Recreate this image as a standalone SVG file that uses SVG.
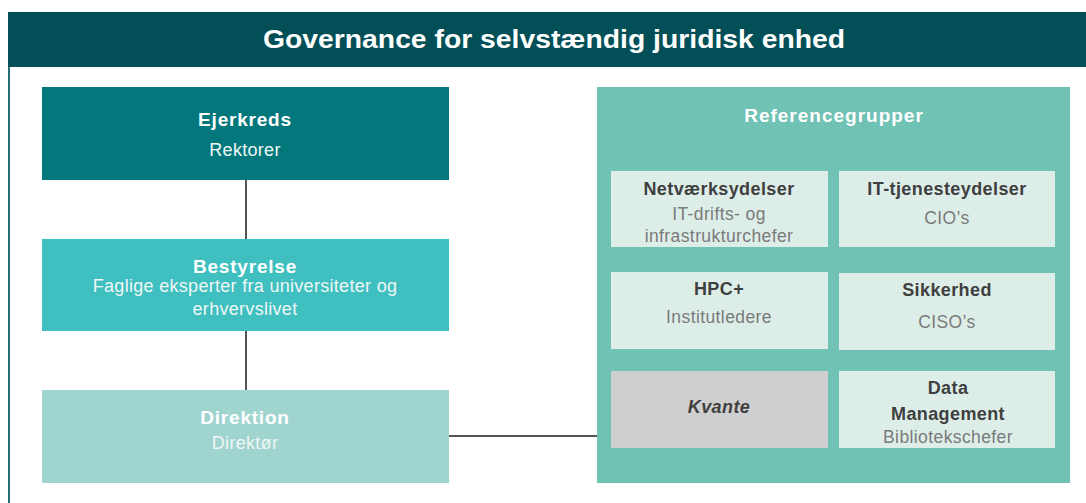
<svg xmlns="http://www.w3.org/2000/svg" width="1086" height="503" viewBox="0 0 1086 503">
<style>
text{font-family:"Liberation Sans",Arial,sans-serif;text-anchor:middle}
.t{font-weight:bold;fill:#fff;font-size:19px;letter-spacing:0.8px}
.s{fill:#eef7f6;font-size:18px;letter-spacing:0.3px}
.it{font-weight:bold;fill:#3f3f3f;font-size:18px;letter-spacing:0.4px}
.is{fill:#7a7a7a;font-size:17.5px;letter-spacing:0.4px}
.conn{stroke:#555;stroke-width:2;fill:none}
</style>
<rect width="1086" height="503" fill="#fff"/>
<g id="header">
<rect x="8" y="12" width="1078" height="55" fill="#024F57"/>
<rect x="8" y="67" width="2" height="436" fill="#2a6d72"/>
<text x="554" y="48" font-size="25" font-weight="bold" fill="#fff" textLength="582" lengthAdjust="spacingAndGlyphs">Governance for selvstændig juridisk enhed</text>
</g>
<g id="connectors">
<line class="conn" x1="246" y1="180" x2="246" y2="239"/>
<line class="conn" x1="246" y1="331" x2="246" y2="390"/>
<line class="conn" x1="449" y1="436" x2="597" y2="436"/>
</g>
<g id="ejerkreds">
<rect x="42" y="87" width="407" height="93" fill="#02777C"/>
<text class="t" x="245" y="126">Ejerkreds</text>
<text class="s" x="245" y="156">Rektorer</text>
</g>
<g id="bestyrelse">
<rect x="42" y="239" width="407" height="92" fill="#3FBFBF"/>
<text class="t" x="245" y="273">Bestyrelse</text>
<text class="s" x="245" y="292">Faglige eksperter fra universiteter og</text>
<text class="s" x="245" y="315">erhvervslivet</text>
</g>
<g id="direktion">
<rect x="42" y="390" width="407" height="93" fill="#A0D4CF"/>
<text class="t" x="245" y="424">Direktion</text>
<text class="s" x="245" y="449">Direktør</text>
</g>
<g id="referencegrupper">
<rect x="597" y="87" width="473" height="396" fill="#6FC2B4"/>
<text class="t" x="834" y="122" style="letter-spacing:1px">Referencegrupper</text>
</g>
<g id="netvaerksydelser">
<rect x="611" y="171" width="217" height="76" fill="#DDEEE9"/>
<text class="it" x="719" y="195">Netværksydelser</text>
<text class="is" x="719" y="220">IT-drifts- og</text>
<text class="is" x="719" y="242">infrastrukturchefer</text>
</g>
<g id="it-tjenesteydelser">
<rect x="839" y="171" width="216" height="76" fill="#DDEEE9"/>
<text class="it" x="947" y="195">IT-tjenesteydelser</text>
<text class="is" x="947" y="224">CIO’s</text>
</g>
<g id="hpc">
<rect x="611" y="272" width="217" height="77" fill="#DDEEE9"/>
<text class="it" x="719" y="295">HPC+</text>
<text class="is" x="719" y="323">Institutledere</text>
</g>
<g id="sikkerhed">
<rect x="839" y="273" width="216" height="77" fill="#DDEEE9"/>
<text class="it" x="947" y="296">Sikkerhed</text>
<text class="is" x="947" y="328">CISO’s</text>
</g>
<g id="kvante">
<rect x="611" y="371" width="217" height="77" fill="#CFCFCF"/>
<text class="it" x="719" y="413" font-style="italic">Kvante</text>
</g>
<g id="data-management">
<rect x="839" y="371" width="216" height="77" fill="#DDEEE9"/>
<text class="it" x="948" y="394">Data</text>
<text class="it" x="948" y="420">Management</text>
<text class="is" x="948" y="443">Bibliotekschefer</text>
</g>
</svg>
